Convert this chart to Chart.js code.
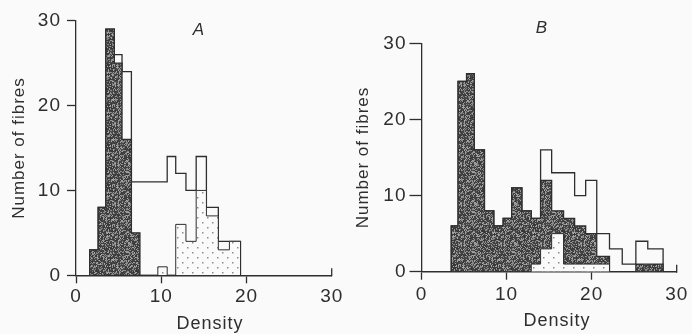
<!DOCTYPE html>
<html>
<head>
<meta charset="utf-8">
<script src="https://cdn.jsdelivr.net/npm/chart.js@4.4.1/dist/chart.umd.min.js"></script>
<style>
  html, body { margin: 0; padding: 0; background: #fafafa; }
  #wrap { position: relative; width: 692px; height: 334px; overflow: hidden; }
  canvas { position: absolute; top: 0; }
  #chartA { left: 0; }
  #chartB { left: 346px; }
</style>
</head>
<body>
<div id="wrap">
  <canvas id="chartA" width="346" height="334"></canvas>
  <canvas id="chartB" width="346" height="334"></canvas>
</div>
<script>
// --- Data (bin edges in density units, counts per bin) ---

const edgesA = [1.6, 2.6, 3.5, 4.5, 5.4, 6.5, 7.5, 8.6, 9.6, 10.7, 11.7, 12.9, 14.1, 15.3, 16.7, 18.0, 19.3];
const totalA = [3, 8, 29, 26, 24, 11, 11, 11, 11, 14, 12, 10, 14, 8, 4, 4];
const darkA = [3, 8, 29, 25, 16, 5, 0, 0, 0, 0, 0, 0, 0, 0, 0, 0];
const dottedA = [0, 0, 0, 0, 0, 0, 0, 0, 1, 0, 6, 4, 10, 7, 3, 4];

const edgesB = [3.5, 4.3, 5.3, 6.2, 7.4, 8.5, 9.6, 10.6, 11.8, 12.9, 14.0, 15.3, 16.7, 18.0, 19.3, 20.6, 22.1, 23.6, 25.2, 26.6, 28.4];
const totalB = [6, 25, 26, 16, 8, 6, 7, 11, 8, 7, 16, 13, 13, 10, 12, 5, 3, 1, 4, 3];
const darkB = [6, 25, 26, 16, 8, 6, 7, 11, 8, 7, 12, 8, 7, 6, 5, 2, 0, 0, 1, 1];
const dottedB = [0, 0, 0, 0, 0, 0, 0, 0, 0, 1, 3, 5, 1, 1, 1, 1, 0, 0, 0, 0];

const xTicks = [0, 10, 20, 30];

const INK = '#2e2e2e';
const FONT = "'Liberation Sans', Arial, Helvetica, sans-serif";

// --- Fill textures ---

function grainPattern() {
  const c = document.createElement('canvas');
  c.width = 40; c.height = 40;
  const g = c.getContext('2d');
  const img = g.createImageData(40, 40);
  for (let j = 0; j < 40; j++) {
    for (let i = 0; i < 40; i++) {
      const h = (((i * 374761393) ^ (j * 668265263)) * 1274126177) >>> 0;
      const r = (h >>> 8) % 100;
      const v = r < 38 ? 122 + (r * 1.4 | 0) : 52 + (r % 28);
      const k = (j * 40 + i) * 4;
      img.data[k] = v; img.data[k + 1] = v; img.data[k + 2] = v; img.data[k + 3] = 255;
    }
  }
  g.putImageData(img, 0, 0);
  return g.createPattern(c, 'repeat');
}

function dotPattern() {
  const c = document.createElement('canvas');
  c.width = 10; c.height = 10;
  const g = c.getContext('2d');
  g.fillStyle = '#fafafa';
  g.fillRect(0, 0, 10, 10);
  g.fillStyle = '#8c8c8c';
  g.fillRect(2, 2, 1.5, 1.5);
  g.fillRect(7, 7, 1.5, 1.5);
  return g.createPattern(c, 'repeat');
}

const GRAIN = grainPattern();
const DOTS = dotPattern();

function stepPoints(edges, counts) {
  const pts = [{ x: edges[0], y: 0 }];
  counts.forEach((c, i) => pts.push({ x: edges[i], y: c }));
  pts.push({ x: edges[edges.length - 1], y: 0 });
  return pts;
}

// --- Panel letter, x title and the upward end tick ---

const panelText = {
  id: 'panelText',
  beforeDraw(chart) {
    chart.ctx.letterSpacing = '1px';
  },
  afterDraw(chart, args, o) {
    const { ctx } = chart;
    const x = chart.scales.x;
    ctx.save();
    ctx.fillStyle = INK;
    ctx.textAlign = 'center';
    ctx.textBaseline = 'middle';
    ctx.font = `italic 17px ${FONT}`;
    ctx.fillText(o.letter, o.letterX, o.letterY);
    ctx.font = `18px ${FONT}`;
    ctx.fillText('Density', o.titleX, o.titleY);
    const px = x.getPixelForValue(30);
    ctx.strokeStyle = INK;
    ctx.lineWidth = 1.3;
    ctx.beginPath();
    ctx.moveTo(px, x.top + 1);
    ctx.lineTo(px, x.top - 7);
    ctx.stroke();
    ctx.restore();
  }
};

function makePanel(id, edges, total, dark, dotted, p) {
  const line = { pointRadius: 0, stepped: 'before', borderColor: INK, tension: 0 };
  return new Chart(document.getElementById(id), {
    type: 'line',
    data: {
      datasets: [
        { ...line, data: stepPoints(edges, dotted), borderWidth: 1, fill: 'origin', backgroundColor: DOTS },
        { ...line, data: stepPoints(edges, dark), borderWidth: 1.3, fill: 'origin', backgroundColor: GRAIN },
        { ...line, data: stepPoints(edges, total), borderWidth: 1.3, fill: false }
      ]
    },
    options: {
      responsive: false,
      devicePixelRatio: 1,
      animation: false,
      layout: { padding: { top: p.top, right: p.right, bottom: 0, left: 0 } },
      plugins: {
        legend: { display: false },
        tooltip: { enabled: false },
        panelText: p.text
      },
      scales: {
        x: {
          type: 'linear',
          min: 0,
          max: 30,
          afterBuildTicks: s => { s.ticks = xTicks.map(v => ({ value: v })); },
          ticks: { color: INK, font: { family: FONT, size: 19 }, padding: p.xTickPad, maxRotation: 0 },
          grid: {
            drawOnChartArea: false,
            tickLength: 8,
            tickWidth: 1.3,
            color: INK,
            tickColor: c => (c.tick && c.tick.value === 30 ? 'rgba(0,0,0,0)' : INK)
          },
          border: { display: true, color: INK, width: 1.5 },
          afterFit: s => { s.height = p.xHeight; }
        },
        y: {
          min: 0,
          max: 30,
          ticks: { stepSize: 10, color: INK, font: { family: FONT, size: 19 }, padding: p.yTickPad },
          grid: { drawOnChartArea: false, tickLength: p.yTickLen, tickWidth: 1.3, color: INK },
          border: { display: true, color: INK, width: 1.3 },
          title: {
            display: true,
            text: 'Number of fibres',
            color: INK,
            font: { family: FONT, size: 17 },
            padding: { top: p.yTitlePad, bottom: 0 }
          },
          afterFit: s => { s.width = p.yWidth; }
        }
      }
    },
    plugins: [panelText]
  });
}

makePanel('chartA', edgesA, totalA, darkA, dottedA, {
  top: 20.7, right: 14.3, xHeight: 58.7, yWidth: 76,
  yTickLen: 9, yTickPad: 6, xTickPad: 2, yTitlePad: 9,
  text: { letter: 'A', letterX: 199, letterY: 30, titleX: 210, titleY: 324 }
});

makePanel('chartB', edgesB, totalB, darkB, dottedB, {
  top: 43.3, right: 15.3, xHeight: 62.3, yWidth: 75.5,
  yTickLen: 12, yTickPad: 3, xTickPad: 4, yTitlePad: 7,
  text: { letter: 'B', letterX: 196, letterY: 28, titleX: 211, titleY: 321 }
});
</script>
</body>
</html>
